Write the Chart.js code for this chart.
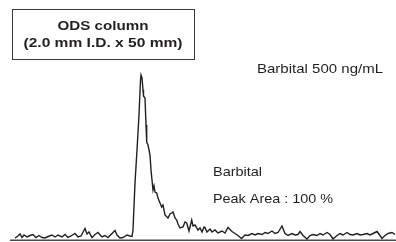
<!DOCTYPE html>
<html>
<head>
<meta charset="utf-8">
<script src="https://cdn.jsdelivr.net/npm/chart.js@4.4.1/dist/chart.umd.min.js"></script>
<style>
  html, body { margin: 0; padding: 0; background: #fff; }
  canvas { display: block; }
</style>
</head>
<body>
<canvas id="chrom" width="396" height="242"></canvas>
<script>
// retention time (arbitrary units) and detector signal
const times = [
  5, 8, 10, 12, 14, 17, 20, 23, 26, 29,
  32, 35, 38, 42, 45, 48, 52, 55, 58, 61,
  65, 68, 71, 75, 77, 79, 82, 85, 88, 92,
  95, 98, 102, 105, 107, 110, 113, 117, 120, 122,
  123, 125, 127, 129, 130.5, 131, 132, 133, 133.5, 135,
  136, 136.7, 138, 139, 140, 141, 142, 143, 144, 145,
  146.7, 148, 150, 151.7, 153, 155, 158, 160, 161.7, 163,
  165, 166.7, 168, 170, 173, 175, 176.7, 179, 181.7, 183,
  185, 188, 190, 192, 194, 195, 197, 200, 202, 205,
  208, 212, 215, 218, 222, 225, 228, 231.5, 235, 238,
  242, 245, 248, 252, 255, 258, 262, 265, 268, 272,
  275, 278, 282, 285, 288, 290, 293, 297, 300, 303,
  307, 310, 313, 317, 320, 323, 327, 330, 333, 337,
  340, 343, 347, 350, 353, 357, 360, 363, 367, 370,
  372, 375, 378, 382, 385
];
const signal = [
  2, 4, 6, 2.5, 5, 3, 4.5, 5.5, 2.5, 4.5,
  2.5, 2, 3.5, 5, 3, 5, 3, 5.5, 2.5, 4,
  6.5, 3, 4, 11.5, 6, 8, 2.5, 5.5, 7.5, 3,
  4.5, 2.5, 6.5, 9.5, 5, 2, 2.5, 5, 4, 3.5,
  10, 57, 90, 125, 160, 165, 162, 150, 144, 142,
  115, 98, 95, 90, 85, 70, 60, 50, 54, 48,
  47, 42, 37, 33, 35, 25, 22, 26, 27, 28,
  22, 20, 16, 12, 13, 18, 17, 9, 20, 14,
  15, 10, 12, 8, 13, 12.5, 8, 11, 8, 10,
  7, 9, 7, 12.5, 8.5, 6.5, 4.5, 1.5, 5, 4.5,
  6.5, 5, 6.5, 5.5, 7.5, 6.5, 9, 6.5, 7.5, 14,
  6.5, 4.5, 6.5, 5, 5.5, 8.5, 4.5, 1, 4.5, 5.5,
  4.5, 6.5, 5, 7.5, 5.5, 1, 4.5, 6.5, 5, 7.5,
  5.5, 5, 6.5, 5, 5.5, 6.5, 5, 6.5, 8.5, 4.5,
  1.5, 4.5, 6.5, 7.5, 5.5
];

const columnLabel = ['ODS column', '(2.0 mm I.D. x 50 mm)'];
const sampleLabel = 'Barbital 500 ng/mL';
const peakLabels = ['Barbital', 'Peak Area : 100 %'];

const ink = '#231f20';

// draw text squeezed/stretched to a given width
function fitText(ctx, text, x, y, w, font, align) {
  ctx.save();
  ctx.font = font;
  const m = ctx.measureText(text).width;
  const sx = w / m;
  let left = x;
  if (align === 'center') left = x - w / 2;
  ctx.translate(left, y);
  ctx.scale(sx, 1);
  ctx.textAlign = 'left';
  ctx.textBaseline = 'alphabetic';
  ctx.fillText(text, 0, 0);
  ctx.restore();
}

// baseline axis under the trace
const axisLine = {
  id: 'axisLine',
  beforeDatasetsDraw(chart) {
    const { ctx, chartArea } = chart;
    ctx.save();
    ctx.strokeStyle = '#4a4a4a';
    ctx.lineWidth = 1.4;
    ctx.beginPath();
    ctx.moveTo(chartArea.left, chartArea.bottom + 0.3);
    ctx.lineTo(chartArea.right, chartArea.bottom + 0.3);
    ctx.stroke();
    ctx.restore();
  }
};

const notes = {
  id: 'notes',
  afterDraw(chart) {
    const ctx = chart.ctx;
    ctx.save();
    ctx.fillStyle = ink;
    ctx.strokeStyle = '#3a3a3a';
    ctx.lineWidth = 1;
    ctx.strokeRect(12.5, 9.5, 182, 50);
    fitText(ctx, columnLabel[0], 103, 30, 91, 'bold 13px "Liberation Sans", Arial, sans-serif', 'center');
    fitText(ctx, columnLabel[1], 103, 47, 159, 'bold 13px "Liberation Sans", Arial, sans-serif', 'center');
    fitText(ctx, sampleLabel, 257, 73, 126, '13px "Liberation Sans", Arial, sans-serif', 'left');
    fitText(ctx, peakLabels[0], 213, 176, 49, '13px "Liberation Sans", Arial, sans-serif', 'left');
    fitText(ctx, peakLabels[1], 213, 202.5, 120, '13px "Liberation Sans", Arial, sans-serif', 'left');
    ctx.restore();
  }
};

new Chart(document.getElementById('chrom'), {
  type: 'line',
  data: {
    datasets: [{
      label: 'Barbital',
      data: times.map((t, i) => ({ x: t, y: signal[i] })),
      borderColor: ink,
      borderWidth: 1.4,
      pointRadius: 0,
      tension: 0,
      fill: false
    }]
  },
  options: {
    responsive: false,
    animation: false,
    layout: { padding: { left: 10, right: 0, top: 0, bottom: 2 } },
    plugins: { legend: { display: false }, tooltip: { enabled: false } },
    scales: {
      x: { type: 'linear', display: false, min: 0, max: 386 },
      y: { display: false, min: 0, max: 240 }
    }
  },
  plugins: [axisLine, notes]
});
</script>
</body>
</html>
